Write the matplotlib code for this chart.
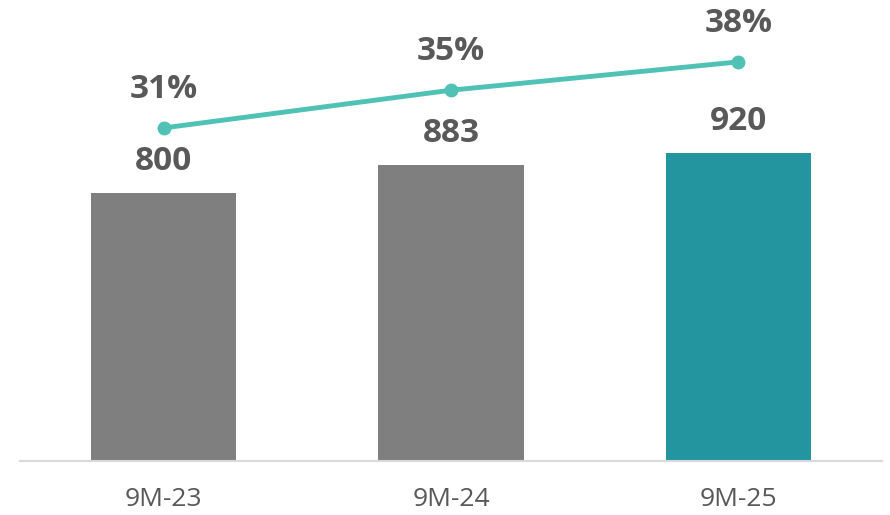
import numpy as np
import matplotlib.pyplot as plt

categories = ['9M-23', '9M-24', '9M-25']
values = [800, 883, 920]
shares = [31, 35, 38]
bar_colors = ['#7F7F7F', '#7F7F7F', '#23959E']

plt.rcParams['font.family'] = ['Open Sans', 'DejaVu Sans']

fig = plt.figure(figsize=(8.9, 5.15), dpi=100)
ax = fig.add_axes([20 / 890, 54 / 515, 862 / 890, 451 / 515])
x = np.arange(len(categories))

ax.bar(x, values, width=0.505, color=bar_colors, zorder=2)
ax.set_xlim(-0.5, len(categories) - 0.5)
ax.set_ylim(0, 1346)
ax.set_yticks([])
ax.set_xticks(x)
ax.set_xticklabels(categories, fontsize=19, color='#595959')
ax.tick_params(axis='x', length=0, pad=19)
for s in ['top', 'right', 'left']:
    ax.spines[s].set_visible(False)
ax.spines['bottom'].set_color('#D9D9D9')
ax.spines['bottom'].set_linewidth(1.5)

for xi, v in zip(x, values):
    ax.annotate(f'{v}', (xi, v), xytext=(0, 22.5), textcoords='offset points',
                ha='center', va='center', fontsize=24, fontweight='bold',
                color='#595959')

ax2 = ax.twinx()
ax2.plot(x, shares, color='#4FC1B5', lw=3.5, marker='o', ms=9, zorder=3)
ax2.set_ylim(-4.3, 43.5)
ax2.axis('off')
for xi, p in zip(x, shares):
    ax2.annotate(f'{p}%', (xi, p), xytext=(0, 28), textcoords='offset points',
                 ha='center', va='center', fontsize=24, fontweight='bold',
                 color='#595959')

fig.savefig('out.png', dpi=100)
